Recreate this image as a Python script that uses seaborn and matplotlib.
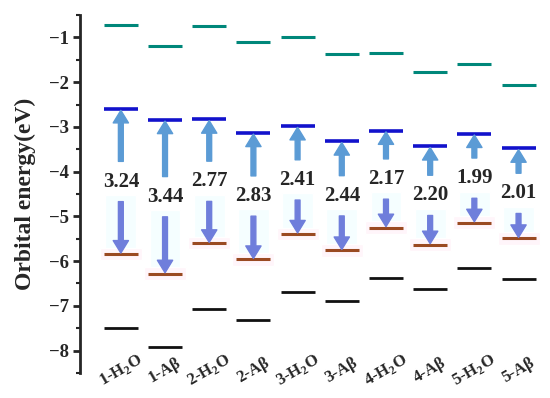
import numpy as np
import pandas as pd
import matplotlib
matplotlib.use("Agg")
import matplotlib.pyplot as plt
import seaborn as sns
from matplotlib.ticker import MultipleLocator

# Orbital energies (eV)
samples = ["1-H$_\\mathbf{2}$O", "1-A\u03b2", "2-H$_\\mathbf{2}$O", "2-A\u03b2", "3-H$_\\mathbf{2}$O",
           "3-A\u03b2", "4-H$_\\mathbf{2}$O", "4-A\u03b2", "5-H$_\\mathbf{2}$O", "5-A\u03b2"]
lumo_plus1 = [-0.72, -1.19, -0.74, -1.09, -1.00, -1.36, -1.34, -1.77, -1.60, -2.07]
lumo = [-2.60, -2.84, -2.83, -3.13, -2.98, -3.32, -3.08, -3.43, -3.15, -3.48]
homo = [-5.84, -6.28, -5.60, -5.96, -5.39, -5.76, -5.25, -5.63, -5.14, -5.49]
homo_minus1 = [-7.50, -7.91, -7.07, -7.32, -6.68, -6.89, -6.38, -6.62, -6.15, -6.41]
gap_labels = ["3.24", "3.44", "2.77", "2.83", "2.41", "2.44", "2.17", "2.20", "1.99", "2.01"]

sns.set_style("ticks")
plt.rcParams["font.family"] = ["Liberation Serif", "DejaVu Serif"]
plt.rcParams["font.weight"] = "bold"
plt.rcParams["mathtext.fontset"] = "custom"
plt.rcParams["mathtext.rm"] = "Liberation Serif"
plt.rcParams["mathtext.bf"] = "Liberation Serif:bold"

x = np.arange(len(samples))
df = pd.DataFrame({"pos": x, "LUMO+1": lumo_plus1, "LUMO": lumo,
                   "HOMO": homo, "HOMO-1": homo_minus1})
long = df.melt(id_vars="pos", var_name="level", value_name="energy")

fig = plt.figure(figsize=(5.5, 3.98), dpi=100)
ax = fig.add_axes([0.145, 0.063, 0.846, 0.899])

# very faint highlight behind the down arrows and HOMO levels
mid = (df["LUMO"] + df["HOMO"]) / 2
ax.bar(x, df["HOMO"] - (mid - 0.3), bottom=mid - 0.3, width=0.7,
       color="#f5feff", zorder=0)
ax.bar(x, 0.28, bottom=df["HOMO"] - 0.14, width=0.95, color="#fff5fa", zorder=0)

styles = {"LUMO+1": ("#00877a", 2.2), "LUMO": ("#1212cc", 2.6),
          "HOMO": ("#9a4a22", 2.2), "HOMO-1": ("#111111", 2.0)}
for level, (col, lw) in styles.items():
    sns.scatterplot(data=long[long["level"] == level], x="pos", y="energy",
                    marker="_", s=600, color=col, linewidth=lw, ax=ax,
                    legend=False, zorder=3)

# gap arrows and labels
for i in x:
    m = mid[i]
    ax.annotate("", xy=(i, lumo[i] - 0.03), xytext=(i, m + 0.45),
                arrowprops=dict(width=3.5, headwidth=11, headlength=9,
                                color="#5b9bd5", shrink=0), zorder=4)
    ax.annotate("", xy=(i, homo[i] + 0.02), xytext=(i, m - 0.45),
                arrowprops=dict(width=3.5, headwidth=11, headlength=9,
                                color="#6f7edb", shrink=0), zorder=4)
    ax.text(i, m, gap_labels[i], ha="center", va="center", fontsize=15,
            fontweight="bold", zorder=5)
    ax.text(i, -8.45, samples[i], ha="center", va="center", fontsize=12,
            fontweight="bold", rotation=30)

ax.set_xlim(-0.93, 9.6)
ax.set_ylim(-8.5, -0.5)
ax.set_xticks([])
ax.set_xlabel("")
ax.yaxis.set_major_locator(MultipleLocator(1))
ax.yaxis.set_minor_locator(MultipleLocator(0.5))
ax.tick_params(axis="y", which="major", length=5, width=2, labelsize=13.5, pad=3)
ax.tick_params(axis="y", which="minor", length=3, width=1.5)
for lbl in ax.get_yticklabels():
    lbl.set_fontweight("bold")
ax.set_ylabel("Orbital energy(eV)", fontsize=17, fontweight="bold", labelpad=9)
for side in ["top", "right", "bottom"]:
    ax.spines[side].set_visible(False)
ax.spines["left"].set_linewidth(2)

fig.savefig("out.png", dpi=100)
